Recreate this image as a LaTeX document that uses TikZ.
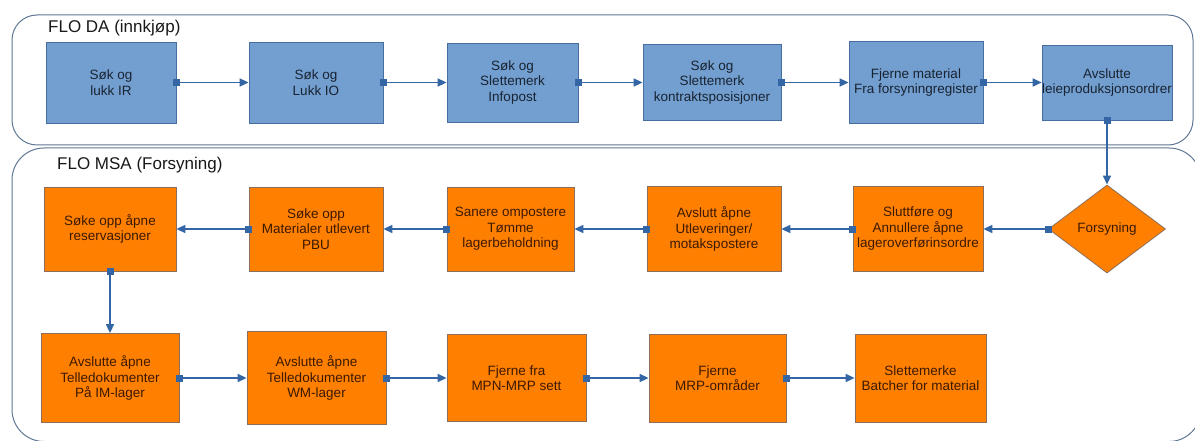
\documentclass[tikz,border=0pt]{standalone}
\usepackage{fontspec}
\setmainfont{Liberation Sans}
\usetikzlibrary{arrows.meta,shapes.geometric}
\definecolor{connc}{RGB}{52,101,164}
\definecolor{bfill}{RGB}{114,159,207}
\definecolor{bdraw}{RGB}{70,110,160}
\definecolor{ofill}{RGB}{255,128,0}
\definecolor{odraw}{RGB}{140,110,90}
\definecolor{framec}{RGB}{95,120,150}
\definecolor{btext}{RGB}{25,35,50}
\definecolor{otext}{RGB}{60,25,0}
\begin{document}
\begin{tikzpicture}[x=1pt,y=-1pt,
  box/.style={rectangle, inner sep=0pt, align=center, font=\fontsize{13.5}{15.5}\selectfont, line width=0.8pt},
  bbox/.style={box, draw=bdraw, fill=bfill, text=btext},
  obox/.style={box, draw=odraw, fill=ofill, text=otext},
  flow/.style={draw=connc, line width=1.6pt, {Square[length=7pt,width=7pt]}-{Triangle[length=9pt,width=8pt]}, shorten <=-3.5pt},
  lane/.style={draw=framec, line width=1pt},
  lanetitle/.style={anchor=base west, font=\fontsize{17}{20}\selectfont, inner sep=0pt, text=black!90}]
\useasboundingbox (0,0) rectangle (1195,441);
\fill[white] (0,0) rectangle (1195,441);
% lanes
\draw[lane, rounded corners=25pt] (12,15) rectangle (1193,145);
\draw[lane, rounded corners=32pt] (12,148) rectangle (1201,441.5);
\node[lanetitle] (t1) at (48,33) {FLO DA (innkjøp)};
\node[lanetitle] (t2) at (57,170) {FLO MSA (Forsyning)};
% row 1
\node[bbox, minimum width=130pt, minimum height=81pt] (b1) at (111,82.5) {Søk og\\lukk IR};
\node[bbox, minimum width=134pt, minimum height=81pt] (b2) at (316,82.5) {Søk og\\Lukk IO};
\node[bbox, minimum width=131pt, minimum height=79pt] (b3) at (512.5,82.5) {Søk og\\Slettemerk\\Infopost};
\node[bbox, minimum width=138pt, minimum height=76pt] (b4) at (712,82.5) {Søk og\\Slettemerk\\kontraktsposisjoner};
\node[bbox, minimum width=134pt, minimum height=82pt] (b5) at (916,82.5) {Fjerne material\\Fra forsyningregister};
\node[bbox, minimum width=129pt, minimum height=75pt] (b6) at (1107,82.5) {Avslutte\\leieproduksjonsordrer};
% row 2
\node[obox, shape=diamond, aspect=1.33, minimum width=117pt, minimum height=88pt] (dia) at (1107,229) {Forsyning};
\node[obox, minimum width=130pt, minimum height=85pt] (e) at (918,229) {Sluttføre og\\Annullere åpne\\lageroverførinsordre};
\node[obox, minimum width=134pt, minimum height=85pt] (d) at (714,229) {Avslutt åpne\\Utleveringer/\\motakspostere};
\node[obox, minimum width=127pt, minimum height=84pt] (c) at (510.5,229) {Sanere ompostere\\Tømme\\lagerbeholdning};
\node[obox, minimum width=134pt, minimum height=84pt] (b) at (316,229) {Søke opp\\Materialer utlevert\\PBU};
\node[obox, minimum width=132pt, minimum height=84pt] (a) at (110,229) {Søke opp åpne\\reservasjoner};
% row 3
\node[obox, minimum width=138pt, minimum height=89pt] (f) at (110,378) {Avslutte åpne\\Telledokumenter\\På IM-lager};
\node[obox, minimum width=139pt, minimum height=93pt] (g) at (316.5,378) {Avslutte åpne\\Telledokumenter\\WM-lager};
\node[obox, minimum width=139pt, minimum height=87pt] (h) at (516.5,378) {Fjerne fra\\MPN-MRP sett};
\node[obox, minimum width=137pt, minimum height=88pt] (i) at (717.5,378) {Fjerne\\MRP-områder};
\node[obox, minimum width=131pt, minimum height=88pt] (j) at (920.5,378) {Slettemerke\\Batcher for material};
% connectors
\draw[flow] (b1.east) -- (b2.west);
\draw[flow] (b2.east) -- (b3.west);
\draw[flow] (b3.east) -- (b4.west);
\draw[flow] (b4.east) -- (b5.west);
\draw[flow] (b5.east) -- (b6.west);
\draw[flow] (b6.south) -- (dia.north);
\draw[flow] (dia.west) -- (e.east);
\draw[flow] (e.west) -- (d.east);
\draw[flow] (d.west) -- (c.east);
\draw[flow] (c.west) -- (b.east);
\draw[flow] (b.west) -- (a.east);
\draw[flow] (a.south) -- (f.north);
\draw[flow] (f.east) -- (g.west);
\draw[flow] (g.east) -- (h.west);
\draw[flow] (h.east) -- (i.west);
\draw[flow] (i.east) -- (j.west);
\end{tikzpicture}
\end{document}
